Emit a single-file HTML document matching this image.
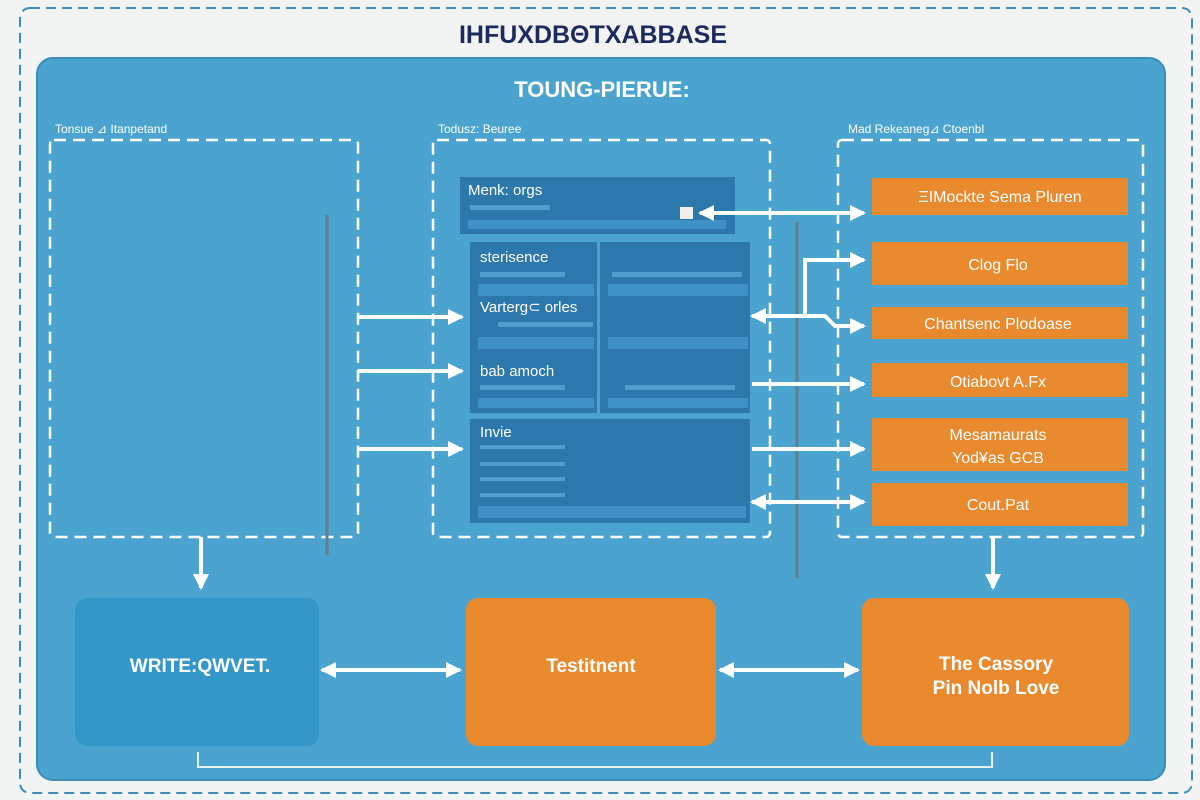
<!DOCTYPE html>
<html><head><meta charset="utf-8"><style>
html,body{margin:0;padding:0;background:#f2f3f3;}
svg{display:block;font-family:"Liberation Sans",sans-serif;}
</style></head><body>
<svg width="1200" height="800" viewBox="0 0 1200 800" xmlns="http://www.w3.org/2000/svg">
<defs>
<marker id="ah" markerWidth="8" markerHeight="8" refX="6" refY="4" orient="auto-start-reverse" markerUnits="userSpaceOnUse" viewBox="0 0 8 8"><path d="M0,0 L8,4 L0,8 z" fill="#fff"/></marker>
<marker id="a" markerWidth="16" markerHeight="16" refX="14" refY="8" orient="auto-start-reverse" markerUnits="userSpaceOnUse"><path d="M0,0 L16,8 L0,16 z" fill="#fff"/></marker>
</defs>
<rect x="0" y="0" width="1200" height="800" fill="#f2f3f3"/>
<rect x="20" y="8" width="1172" height="785" rx="10" fill="none" stroke="#3a8fb8" stroke-width="2" stroke-dasharray="10 6"/>
<text x="593" y="43" text-anchor="middle" font-size="25" font-weight="bold" fill="#1d2a5e">IHFUXDBΘTXABBASE</text>
<rect x="37" y="58" width="1128" height="722" rx="16" fill="#4ba4cf" stroke="#3a8dba" stroke-width="2"/>
<text x="602" y="97" text-anchor="middle" font-size="22" font-weight="bold" fill="#fff">TOUNG-PIERUE:</text>
<g font-size="12" fill="#fff">
<text x="55" y="133">Tonsue ⊿    Itanpetand</text>
<text x="438" y="133">Todusz:   Beuree</text>
<text x="848" y="133">Mad      Rekeaneg⊿  Ctoenbl</text>
</g>
<g fill="none" stroke="#fff" stroke-width="2.5" stroke-dasharray="12 7">
<rect x="50" y="140" width="308" height="397" rx="4"/>
<rect x="433" y="140" width="337" height="397" rx="4"/>
<rect x="838" y="140" width="305" height="397" rx="4"/>
</g>
<g stroke="#5f7f8f" stroke-width="3">
<line x1="327" y1="215" x2="327" y2="555"/>
<line x1="797" y1="222" x2="797" y2="578"/>
</g>
<!-- inner dark boxes -->
<g fill="#2c78ad">
<rect x="460" y="177" width="275" height="57"/>
<rect x="470" y="242" width="127" height="171"/>
<rect x="600" y="242" width="150" height="171"/>
<rect x="470" y="419" width="280" height="104"/>
</g>
<g fill="#3f91c5">
<rect x="468" y="220" width="258" height="9"/>
<rect x="478" y="284" width="116" height="12"/>
<rect x="478" y="337" width="116" height="12"/>
<rect x="478" y="398" width="116" height="10"/>
<rect x="608" y="284" width="140" height="12"/>
<rect x="608" y="337" width="140" height="12"/>
<rect x="608" y="398" width="140" height="10"/>
<rect x="478" y="506" width="268" height="12"/>
</g>
<g fill="#5aa7d6" opacity="0.8">
<rect x="470" y="205" width="80" height="5"/>
<rect x="480" y="272" width="85" height="5"/>
<rect x="498" y="322" width="95" height="5"/>
<rect x="480" y="385" width="85" height="5"/>
<rect x="612" y="272" width="130" height="5"/>
<rect x="625" y="385" width="110" height="5"/>
<rect x="480" y="445" width="85" height="4"/>
<rect x="480" y="462" width="85" height="4"/>
<rect x="480" y="477" width="85" height="4"/>
<rect x="480" y="493" width="85" height="4"/>
</g>
<g font-size="15" fill="#fff">
<text x="468" y="195">Menk: orgs</text>
<text x="480" y="262">sterisence</text>
<text x="480" y="312">Varterg⊂ orles</text>
<text x="480" y="376">bab amoch</text>
<text x="480" y="437">Invie</text>
</g>
<rect x="680" y="207" width="13" height="12" fill="#f3efe8"/>
<!-- left arrows -->
<g stroke="#fff" stroke-width="4" fill="none">
<line x1="358" y1="317" x2="462" y2="317" marker-end="url(#a)"/>
<line x1="358" y1="371" x2="462" y2="371" marker-end="url(#a)"/>
<line x1="358" y1="449" x2="462" y2="449" marker-end="url(#a)"/>
<line x1="700" y1="213" x2="864" y2="213" marker-start="url(#a)" marker-end="url(#a)"/>
<path d="M752,316 L805,316 L805,260 L864,260" marker-start="url(#a)" marker-end="url(#a)"/>
<path d="M805,316 L825,316 L835,326 L864,326" marker-end="url(#a)"/>
<line x1="752" y1="384" x2="864" y2="384" marker-end="url(#a)"/>
<line x1="752" y1="449" x2="864" y2="449" marker-end="url(#a)"/>
<line x1="752" y1="502" x2="864" y2="502" marker-start="url(#a)" marker-end="url(#a)"/>
<line x1="201" y1="537" x2="201" y2="588" marker-end="url(#a)"/>
<line x1="993" y1="537" x2="993" y2="588" marker-end="url(#a)"/>
<line x1="322" y1="670" x2="460" y2="670" marker-start="url(#a)" marker-end="url(#a)"/>
<line x1="720" y1="670" x2="858" y2="670" marker-start="url(#a)" marker-end="url(#a)"/>
</g>
<path d="M198,752 L198,767 L992,767 L992,752" fill="none" stroke="#e8f3f9" stroke-width="2"/>
<!-- orange right boxes -->
<g fill="#e98a2e">
<rect x="872" y="178" width="256" height="37"/>
<rect x="872" y="242" width="256" height="43"/>
<rect x="872" y="307" width="256" height="32"/>
<rect x="872" y="363" width="256" height="34"/>
<rect x="872" y="418" width="256" height="53"/>
<rect x="872" y="483" width="256" height="43"/>
</g>
<g font-size="16" fill="#fff" text-anchor="middle">
<text x="1000" y="202">ΞIMockte Sema Pluren</text>
<text x="998" y="270">Clog Flo</text>
<text x="998" y="329">Chantsenc Plodoase</text>
<text x="998" y="387">Otiabovt A.Fx</text>
<text x="998" y="440">Mesamaurats</text>
<text x="998" y="463">Yod¥as GCB</text>
<text x="998" y="510">Cout.Pat</text>
</g>
<!-- bottom boxes -->
<rect x="75" y="598" width="244" height="148" rx="12" fill="#3597c7"/>
<rect x="466" y="598" width="250" height="148" rx="12" fill="#e98a2e"/>
<rect x="862" y="598" width="267" height="148" rx="12" fill="#e98a2e"/>
<g fill="#fff" font-weight="bold" text-anchor="middle" font-size="19">
<text x="200" y="672">WRITE:QWVET.</text>
<text x="591" y="672">Testitnent</text>
<text x="996" y="670">The Cassory</text>
<text x="996" y="694">Pin Nolb Love</text>
</g>
</svg>
</body></html>
